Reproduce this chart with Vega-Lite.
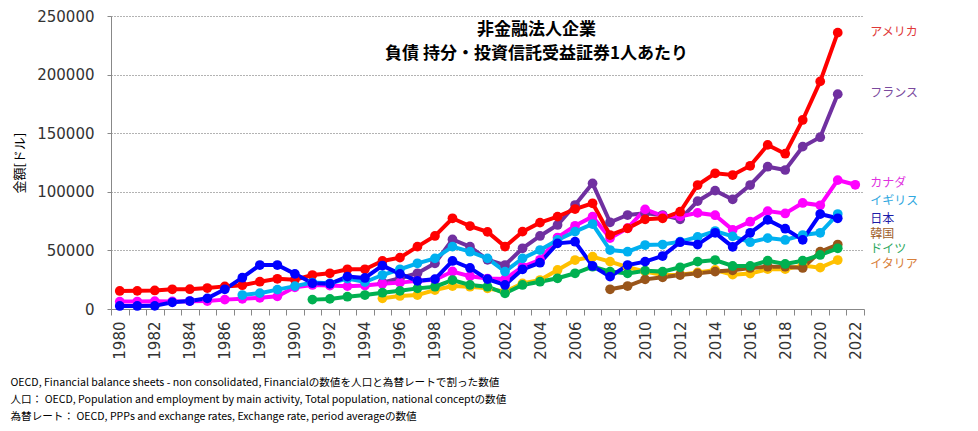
{
  "$schema": "https://vega.github.io/schema/vega-lite/v6.json",
  "autosize": {"type": "none"},
  "padding": {"left": 111, "top": 16, "right": 114, "bottom": 122},
  "width": 753,
  "height": 293,
  "background": "white",
  "config": {"view": {"stroke": null}, "font": "Noto Sans CJK JP"},
  "title": {
    "text": ["非金融法人企業", "負債 持分・投資信託受益証券1人あたり"],
    "font": "Noto Sans CJK JP",
    "fontSize": 17,
    "fontWeight": "bold",
    "lineHeight": 24,
    "anchor": "middle",
    "dx": 49,
    "offset": -54,
    "color": "#000000"
  },
  "datasets": {
    "series": [
      {"country": "フランス", "year": 1995, "value": 22500},
      {"country": "フランス", "year": 1996, "value": 26200},
      {"country": "フランス", "year": 1997, "value": 30500},
      {"country": "フランス", "year": 1998, "value": 39000},
      {"country": "フランス", "year": 1999, "value": 59400},
      {"country": "フランス", "year": 2000, "value": 53200},
      {"country": "フランス", "year": 2001, "value": 42000},
      {"country": "フランス", "year": 2002, "value": 37500},
      {"country": "フランス", "year": 2003, "value": 51800},
      {"country": "フランス", "year": 2004, "value": 62300},
      {"country": "フランス", "year": 2005, "value": 71700},
      {"country": "フランス", "year": 2006, "value": 88700},
      {"country": "フランス", "year": 2007, "value": 107200},
      {"country": "フランス", "year": 2008, "value": 74000},
      {"country": "フランス", "year": 2009, "value": 80200},
      {"country": "フランス", "year": 2010, "value": 81600},
      {"country": "フランス", "year": 2011, "value": 80200},
      {"country": "フランス", "year": 2012, "value": 76500},
      {"country": "フランス", "year": 2013, "value": 92000},
      {"country": "フランス", "year": 2014, "value": 101000},
      {"country": "フランス", "year": 2015, "value": 93500},
      {"country": "フランス", "year": 2016, "value": 105800},
      {"country": "フランス", "year": 2017, "value": 121400},
      {"country": "フランス", "year": 2018, "value": 118600},
      {"country": "フランス", "year": 2019, "value": 138500},
      {"country": "フランス", "year": 2020, "value": 146600},
      {"country": "フランス", "year": 2021, "value": 183300},
      {"country": "カナダ", "year": 1980, "value": 6300},
      {"country": "カナダ", "year": 1981, "value": 6400},
      {"country": "カナダ", "year": 1982, "value": 6700},
      {"country": "カナダ", "year": 1983, "value": 6500},
      {"country": "カナダ", "year": 1984, "value": 6700},
      {"country": "カナダ", "year": 1985, "value": 6800},
      {"country": "カナダ", "year": 1986, "value": 8000},
      {"country": "カナダ", "year": 1987, "value": 8700},
      {"country": "カナダ", "year": 1988, "value": 9500},
      {"country": "カナダ", "year": 1989, "value": 10800},
      {"country": "カナダ", "year": 1990, "value": 18500},
      {"country": "カナダ", "year": 1991, "value": 20500},
      {"country": "カナダ", "year": 1992, "value": 20000},
      {"country": "カナダ", "year": 1993, "value": 19500},
      {"country": "カナダ", "year": 1994, "value": 20000},
      {"country": "カナダ", "year": 1995, "value": 21500},
      {"country": "カナダ", "year": 1996, "value": 22500},
      {"country": "カナダ", "year": 1997, "value": 24000},
      {"country": "カナダ", "year": 1998, "value": 25000},
      {"country": "カナダ", "year": 1999, "value": 32000},
      {"country": "カナダ", "year": 2000, "value": 28000},
      {"country": "カナダ", "year": 2001, "value": 26000},
      {"country": "カナダ", "year": 2002, "value": 25500},
      {"country": "カナダ", "year": 2003, "value": 36000},
      {"country": "カナダ", "year": 2004, "value": 42000},
      {"country": "カナダ", "year": 2005, "value": 61000},
      {"country": "カナダ", "year": 2006, "value": 71000},
      {"country": "カナダ", "year": 2007, "value": 78800},
      {"country": "カナダ", "year": 2008, "value": 60500},
      {"country": "カナダ", "year": 2009, "value": 69000},
      {"country": "カナダ", "year": 2010, "value": 85000},
      {"country": "カナダ", "year": 2011, "value": 79500},
      {"country": "カナダ", "year": 2012, "value": 79000},
      {"country": "カナダ", "year": 2013, "value": 82000},
      {"country": "カナダ", "year": 2014, "value": 80000},
      {"country": "カナダ", "year": 2015, "value": 67500},
      {"country": "カナダ", "year": 2016, "value": 74500},
      {"country": "カナダ", "year": 2017, "value": 83500},
      {"country": "カナダ", "year": 2018, "value": 81500},
      {"country": "カナダ", "year": 2019, "value": 90500},
      {"country": "カナダ", "year": 2020, "value": 88500},
      {"country": "カナダ", "year": 2021, "value": 110000},
      {"country": "カナダ", "year": 2022, "value": 106000},
      {"country": "アメリカ", "year": 1980, "value": 15400},
      {"country": "アメリカ", "year": 1981, "value": 15500},
      {"country": "アメリカ", "year": 1982, "value": 15800},
      {"country": "アメリカ", "year": 1983, "value": 16800},
      {"country": "アメリカ", "year": 1984, "value": 16900},
      {"country": "アメリカ", "year": 1985, "value": 17900},
      {"country": "アメリカ", "year": 1986, "value": 19300},
      {"country": "アメリカ", "year": 1987, "value": 20300},
      {"country": "アメリカ", "year": 1988, "value": 23300},
      {"country": "アメリカ", "year": 1989, "value": 25800},
      {"country": "アメリカ", "year": 1990, "value": 25000},
      {"country": "アメリカ", "year": 1991, "value": 29000},
      {"country": "アメリカ", "year": 1992, "value": 30500},
      {"country": "アメリカ", "year": 1993, "value": 33900},
      {"country": "アメリカ", "year": 1994, "value": 33900},
      {"country": "アメリカ", "year": 1995, "value": 41000},
      {"country": "アメリカ", "year": 1996, "value": 43800},
      {"country": "アメリカ", "year": 1997, "value": 53200},
      {"country": "アメリカ", "year": 1998, "value": 62300},
      {"country": "アメリカ", "year": 1999, "value": 77400},
      {"country": "アメリカ", "year": 2000, "value": 70800},
      {"country": "アメリカ", "year": 2001, "value": 65800},
      {"country": "アメリカ", "year": 2002, "value": 53200},
      {"country": "アメリカ", "year": 2003, "value": 66000},
      {"country": "アメリカ", "year": 2004, "value": 73700},
      {"country": "アメリカ", "year": 2005, "value": 78800},
      {"country": "アメリカ", "year": 2006, "value": 85300},
      {"country": "アメリカ", "year": 2007, "value": 90200},
      {"country": "アメリカ", "year": 2008, "value": 63100},
      {"country": "アメリカ", "year": 2009, "value": 68800},
      {"country": "アメリカ", "year": 2010, "value": 76500},
      {"country": "アメリカ", "year": 2011, "value": 77400},
      {"country": "アメリカ", "year": 2012, "value": 83000},
      {"country": "アメリカ", "year": 2013, "value": 105800},
      {"country": "アメリカ", "year": 2014, "value": 115800},
      {"country": "アメリカ", "year": 2015, "value": 114300},
      {"country": "アメリカ", "year": 2016, "value": 122200},
      {"country": "アメリカ", "year": 2017, "value": 140000},
      {"country": "アメリカ", "year": 2018, "value": 132500},
      {"country": "アメリカ", "year": 2019, "value": 161300},
      {"country": "アメリカ", "year": 2020, "value": 194200},
      {"country": "アメリカ", "year": 2021, "value": 235800},
      {"country": "イギリス", "year": 1987, "value": 11900},
      {"country": "イギリス", "year": 1988, "value": 13500},
      {"country": "イギリス", "year": 1989, "value": 16500},
      {"country": "イギリス", "year": 1990, "value": 19500},
      {"country": "イギリス", "year": 1991, "value": 22500},
      {"country": "イギリス", "year": 1992, "value": 21900},
      {"country": "イギリス", "year": 1993, "value": 26000},
      {"country": "イギリス", "year": 1994, "value": 23000},
      {"country": "イギリス", "year": 1995, "value": 29000},
      {"country": "イギリス", "year": 1996, "value": 33900},
      {"country": "イギリス", "year": 1997, "value": 39000},
      {"country": "イギリス", "year": 1998, "value": 43200},
      {"country": "イギリス", "year": 1999, "value": 53200},
      {"country": "イギリス", "year": 2000, "value": 48900},
      {"country": "イギリス", "year": 2001, "value": 43200},
      {"country": "イギリス", "year": 2002, "value": 31900},
      {"country": "イギリス", "year": 2003, "value": 43200},
      {"country": "イギリス", "year": 2004, "value": 50300},
      {"country": "イギリス", "year": 2005, "value": 58900},
      {"country": "イギリス", "year": 2006, "value": 66000},
      {"country": "イギリス", "year": 2007, "value": 72500},
      {"country": "イギリス", "year": 2008, "value": 50300},
      {"country": "イギリス", "year": 2009, "value": 48900},
      {"country": "イギリス", "year": 2010, "value": 54600},
      {"country": "イギリス", "year": 2011, "value": 55000},
      {"country": "イギリス", "year": 2012, "value": 57500},
      {"country": "イギリス", "year": 2013, "value": 61500},
      {"country": "イギリス", "year": 2014, "value": 66500},
      {"country": "イギリス", "year": 2015, "value": 62000},
      {"country": "イギリス", "year": 2016, "value": 57000},
      {"country": "イギリス", "year": 2017, "value": 60500},
      {"country": "イギリス", "year": 2018, "value": 58900},
      {"country": "イギリス", "year": 2019, "value": 63100},
      {"country": "イギリス", "year": 2020, "value": 65000},
      {"country": "イギリス", "year": 2021, "value": 81000},
      {"country": "イタリア", "year": 1995, "value": 9100},
      {"country": "イタリア", "year": 1996, "value": 11100},
      {"country": "イタリア", "year": 1997, "value": 11900},
      {"country": "イタリア", "year": 1998, "value": 16200},
      {"country": "イタリア", "year": 1999, "value": 19600},
      {"country": "イタリア", "year": 2000, "value": 19000},
      {"country": "イタリア", "year": 2001, "value": 17600},
      {"country": "イタリア", "year": 2002, "value": 14800},
      {"country": "イタリア", "year": 2003, "value": 21900},
      {"country": "イタリア", "year": 2004, "value": 24700},
      {"country": "イタリア", "year": 2005, "value": 33300},
      {"country": "イタリア", "year": 2006, "value": 41800},
      {"country": "イタリア", "year": 2007, "value": 44600},
      {"country": "イタリア", "year": 2008, "value": 40400},
      {"country": "イタリア", "year": 2009, "value": 35600},
      {"country": "イタリア", "year": 2010, "value": 32000},
      {"country": "イタリア", "year": 2011, "value": 29000},
      {"country": "イタリア", "year": 2012, "value": 29300},
      {"country": "イタリア", "year": 2013, "value": 31200},
      {"country": "イタリア", "year": 2014, "value": 33300},
      {"country": "イタリア", "year": 2015, "value": 29300},
      {"country": "イタリア", "year": 2016, "value": 30200},
      {"country": "イタリア", "year": 2017, "value": 34000},
      {"country": "イタリア", "year": 2018, "value": 34000},
      {"country": "イタリア", "year": 2019, "value": 37100},
      {"country": "イタリア", "year": 2020, "value": 35300},
      {"country": "イタリア", "year": 2021, "value": 41800},
      {"country": "韓国", "year": 2008, "value": 16800},
      {"country": "韓国", "year": 2009, "value": 19600},
      {"country": "韓国", "year": 2010, "value": 25300},
      {"country": "韓国", "year": 2011, "value": 27000},
      {"country": "韓国", "year": 2012, "value": 29000},
      {"country": "韓国", "year": 2013, "value": 30400},
      {"country": "韓国", "year": 2014, "value": 31900},
      {"country": "韓国", "year": 2015, "value": 33000},
      {"country": "韓国", "year": 2016, "value": 35000},
      {"country": "韓国", "year": 2017, "value": 36100},
      {"country": "韓国", "year": 2018, "value": 36100},
      {"country": "韓国", "year": 2019, "value": 35000},
      {"country": "韓国", "year": 2020, "value": 48900},
      {"country": "韓国", "year": 2021, "value": 55000},
      {"country": "ドイツ", "year": 1991, "value": 8000},
      {"country": "ドイツ", "year": 1992, "value": 8600},
      {"country": "ドイツ", "year": 1993, "value": 10500},
      {"country": "ドイツ", "year": 1994, "value": 11900},
      {"country": "ドイツ", "year": 1995, "value": 13900},
      {"country": "ドイツ", "year": 1996, "value": 15500},
      {"country": "ドイツ", "year": 1997, "value": 17600},
      {"country": "ドイツ", "year": 1998, "value": 19000},
      {"country": "ドイツ", "year": 1999, "value": 24700},
      {"country": "ドイツ", "year": 2000, "value": 20500},
      {"country": "ドイツ", "year": 2001, "value": 19000},
      {"country": "ドイツ", "year": 2002, "value": 13400},
      {"country": "ドイツ", "year": 2003, "value": 20500},
      {"country": "ドイツ", "year": 2004, "value": 23300},
      {"country": "ドイツ", "year": 2005, "value": 26200},
      {"country": "ドイツ", "year": 2006, "value": 30500},
      {"country": "ドイツ", "year": 2007, "value": 36100},
      {"country": "ドイツ", "year": 2008, "value": 31900},
      {"country": "ドイツ", "year": 2009, "value": 30400},
      {"country": "ドイツ", "year": 2010, "value": 32700},
      {"country": "ドイツ", "year": 2011, "value": 31900},
      {"country": "ドイツ", "year": 2012, "value": 35600},
      {"country": "ドイツ", "year": 2013, "value": 40400},
      {"country": "ドイツ", "year": 2014, "value": 41800},
      {"country": "ドイツ", "year": 2015, "value": 36700},
      {"country": "ドイツ", "year": 2016, "value": 36700},
      {"country": "ドイツ", "year": 2017, "value": 41200},
      {"country": "ドイツ", "year": 2018, "value": 38400},
      {"country": "ドイツ", "year": 2019, "value": 41200},
      {"country": "ドイツ", "year": 2020, "value": 46100},
      {"country": "ドイツ", "year": 2021, "value": 51800},
      {"country": "日本", "year": 1980, "value": 2600},
      {"country": "日本", "year": 1981, "value": 2600},
      {"country": "日本", "year": 1982, "value": 2700},
      {"country": "日本", "year": 1983, "value": 5700},
      {"country": "日本", "year": 1984, "value": 6800},
      {"country": "日本", "year": 1985, "value": 9100},
      {"country": "日本", "year": 1986, "value": 16800},
      {"country": "日本", "year": 1987, "value": 26700},
      {"country": "日本", "year": 1988, "value": 37500},
      {"country": "日本", "year": 1989, "value": 37500},
      {"country": "日本", "year": 1990, "value": 30000},
      {"country": "日本", "year": 1991, "value": 22000},
      {"country": "日本", "year": 1992, "value": 21500},
      {"country": "日本", "year": 1993, "value": 27600},
      {"country": "日本", "year": 1994, "value": 26500},
      {"country": "日本", "year": 1995, "value": 37000},
      {"country": "日本", "year": 1996, "value": 30000},
      {"country": "日本", "year": 1997, "value": 24000},
      {"country": "日本", "year": 1998, "value": 25500},
      {"country": "日本", "year": 1999, "value": 41000},
      {"country": "日本", "year": 2000, "value": 35000},
      {"country": "日本", "year": 2001, "value": 25500},
      {"country": "日本", "year": 2002, "value": 20500},
      {"country": "日本", "year": 2003, "value": 33900},
      {"country": "日本", "year": 2004, "value": 39500},
      {"country": "日本", "year": 2005, "value": 56000},
      {"country": "日本", "year": 2006, "value": 57400},
      {"country": "日本", "year": 2007, "value": 36700},
      {"country": "日本", "year": 2008, "value": 27600},
      {"country": "日本", "year": 2009, "value": 37500},
      {"country": "日本", "year": 2010, "value": 40400},
      {"country": "日本", "year": 2011, "value": 45200},
      {"country": "日本", "year": 2012, "value": 57000},
      {"country": "日本", "year": 2013, "value": 55000},
      {"country": "日本", "year": 2014, "value": 65000},
      {"country": "日本", "year": 2015, "value": 53000},
      {"country": "日本", "year": 2016, "value": 65000},
      {"country": "日本", "year": 2017, "value": 76000},
      {"country": "日本", "year": 2018, "value": 68500},
      {"country": "日本", "year": 2019, "value": 59000},
      {"country": "日本", "year": 2020, "value": 81000},
      {"country": "日本", "year": 2021, "value": 77400}
    ],
    "labels": [
      {"country": "アメリカ", "value": 236000},
      {"country": "フランス", "value": 184000},
      {"country": "カナダ", "value": 107500},
      {"country": "イギリス", "value": 91800},
      {"country": "日本", "value": 77000},
      {"country": "韓国", "value": 64000},
      {"country": "ドイツ", "value": 51000},
      {"country": "イタリア", "value": 38000}
    ]
  },
  "layer": [
    {
      "data": {"name": "series"},
      "mark": {"type": "line", "strokeWidth": 4, "point": {"size": 95, "filled": true, "opacity": 1}},
      "encoding": {
        "x": {
          "field": "year",
          "type": "ordinal",
          "scale": {
            "type": "band",
            "paddingInner": 0,
            "paddingOuter": 0,
            "domain": [1980,1981,1982,1983,1984,1985,1986,1987,1988,1989,1990,1991,1992,1993,1994,1995,1996,1997,1998,1999,2000,2001,2002,2003,2004,2005,2006,2007,2008,2009,2010,2011,2012,2013,2014,2015,2016,2017,2018,2019,2020,2021,2022]
          },
          "axis": {
            "title": [
              "OECD, Financial balance sheets - non consolidated, Financialの数値を人口と為替レートで割った数値",
              "人口： OECD, Population and employment by main activity, Total population, national conceptの数値",
              "為替レート： OECD, PPPs and exchange rates, Exchange rate, period averageの数値"
            ],
            "titleFont": "Noto Sans CJK JP",
            "titleFontSize": 10.6,
            "titleFontWeight": "normal",
            "titleColor": "#000000",
            "titleLineHeight": 17,
            "titleAlign": "left",
            "titleBaseline": "top",
            "titleAngle": 0,
            "titleX": -101,
            "titleY": 68,
            "labelAngle": 270,
            "labelExpr": "datum.value % 2 == 0 ? datum.label : ''",
            "labelFont": "DejaVu Sans",
            "labelFontSize": 15,
            "labelColor": "#333333",
            "labelPadding": 6,
            "tickBand": "extent",
            "tickSize": 6,
            "tickColor": "#888888",
            "domainColor": "#888888",
            "grid": false
          }
        },
        "y": {
          "field": "value",
          "type": "quantitative",
          "scale": {"domain": [0, 250000], "nice": false},
          "axis": {
            "title": "金額[ドル]",
            "titleFont": "Noto Sans CJK JP",
            "titleFontSize": 13,
            "titleFontWeight": "normal",
            "titleColor": "#000000",
            "titlePadding": 10,
            "values": [0, 50000, 100000, 150000, 200000, 250000],
            "format": "d",
            "labelFont": "DejaVu Sans",
            "labelFontSize": 15,
            "labelColor": "#333333",
            "labelPadding": 13,
            "tickSize": 4,
            "tickColor": "#888888",
            "domainColor": "#888888",
            "grid": true,
            "gridDash": [1, 2],
            "gridColor": "#666666"
          }
        },
        "color": {
          "field": "country",
          "type": "nominal",
          "scale": {
            "domain": ["アメリカ", "フランス", "カナダ", "イギリス", "日本", "韓国", "ドイツ", "イタリア"],
            "range": ["#FF0000", "#7030A0", "#FF00FF", "#00B0F0", "#0000FF", "#99551A", "#00B050", "#FFC000"]
          },
          "legend": null
        }
      }
    },
    {
      "data": {"name": "labels"},
      "mark": {"type": "text", "align": "left", "baseline": "middle", "dx": 15, "fontSize": 12, "font": "Noto Sans CJK JP"},
      "encoding": {
        "x": {"datum": 2022, "type": "ordinal"},
        "y": {"field": "value", "type": "quantitative"},
        "text": {"field": "country"},
        "color": {
          "field": "country",
          "type": "nominal",
          "scale": {
            "domain": ["アメリカ", "フランス", "カナダ", "イギリス", "日本", "韓国", "ドイツ", "イタリア"],
            "range": ["#E03838", "#7A4A9E", "#E030E0", "#30A8E0", "#1C1CA8", "#A0602A", "#2EA860", "#D8803A"]
          },
          "legend": null
        }
      }
    }
  ],
  "resolve": {"scale": {"color": "independent"}}
}
